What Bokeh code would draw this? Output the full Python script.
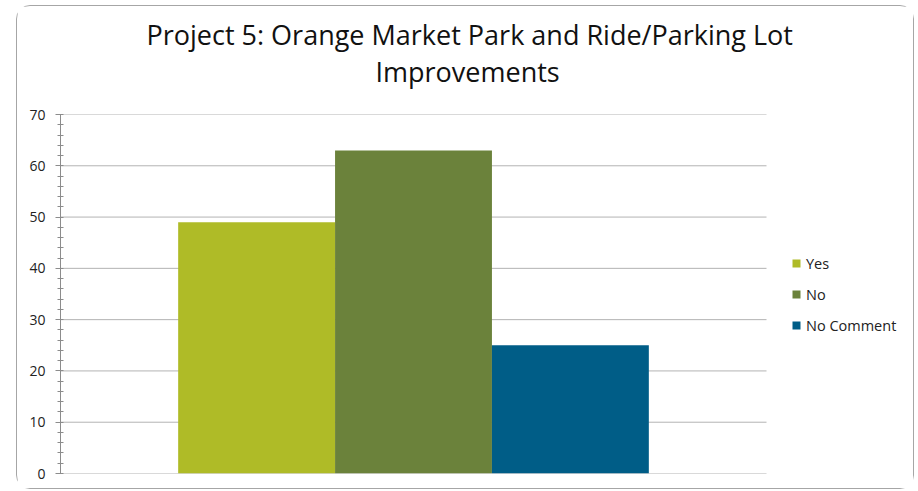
from bokeh.plotting import figure
from bokeh.models import (Range1d, Title, Legend, LegendItem,
                          ColumnDataSource, SingleIntervalTicker)
from bokeh.embed import file_html
from bokeh.resources import INLINE

# ---- data ----
title_lines = ["Project 5: Orange Market Park and Ride/Parking Lot", "Improvements"]
categories = ["Yes", "No", "No Comment"]
values = [49, 63, 25]
colors = ["#afbb27", "#6b823b", "#005d87"]
y_min, y_max, y_step = 0, 70, 10

FONT = "Open Sans"

# ---- geometry (pixels) ----
W, H = 898, 484
left_px, plot_px, top_px, bottom_px = 43, 706, 108, 17
pad = 0.75                                   # category padding on each side
n = len(categories)
unit_px = plot_px / (n + 2 * pad)
frame_px = W - left_px                       # frame also hosts the legend
x_start = -pad
x_end = x_start + frame_px / unit_px

xs = [i + 0.5 for i in range(n)]
src = ColumnDataSource(dict(x=xs, cat=categories, val=values, color=colors))

p = figure(width=W, height=H, output_backend="svg", toolbar_location=None,
           x_range=Range1d(x_start, x_end), y_range=Range1d(y_min, y_max),
           x_axis_location=None,
           min_border_left=left_px, min_border_right=0,
           min_border_top=top_px, min_border_bottom=bottom_px, title=None)
p.background_fill_color = "white"
p.border_fill_color = "white"
p.outline_line_color = None
p.styles = {"margin-left": "16px", "margin-top": "5px",
            "border": "1px solid #a6a6a6", "border-radius": "14px"}

# y axis
ax = p.yaxis[0]
ax.ticker = SingleIntervalTicker(interval=y_step, num_minor_ticks=5)
ax.axis_line_color = "#8c8c8c"
ax.major_tick_line_color = "#8c8c8c"
ax.minor_tick_line_color = "#8c8c8c"
ax.major_tick_out = 5
ax.major_tick_in = 0
ax.minor_tick_out = 3
ax.minor_tick_in = 3
ax.major_label_standoff = 10
ax.major_label_text_font = FONT
ax.major_label_text_font_size = "14px"
ax.major_label_text_color = "#222222"

p.ygrid.visible = False
for g in p.xgrid:
    g.visible = False

# horizontal gridlines limited to the plot area
grid_y = list(range(y_min, y_max + 1, y_step))
p.segment(x0=[x_start] * len(grid_y), x1=[n + pad] * len(grid_y), y0=grid_y, y1=grid_y,
          line_color="#b3b3b3", line_width=1, level="underlay")

r = p.vbar(x="x", top="val", bottom=0, width=1.0, source=src,
           fill_color="color", line_color=None)

items = [LegendItem(label=c, renderers=[r], index=i) for i, c in enumerate(categories)]
legend = Legend(items=items, location=(plot_px + 25, 138), orientation="vertical",
                glyph_width=10, glyph_height=10, label_height=20, spacing=11,
                padding=0, margin=0, label_standoff=5,
                border_line_color=None, background_fill_alpha=0,
                label_text_font=FONT, label_text_font_size="14.5px",
                label_text_color="#222222", label_text_baseline="middle")
p.add_layout(legend)

# spacer between the plot area and the title block
p.add_layout(Title(text=" ", text_font_size="1px", standoff=20), "above")
p.add_layout(Title(text=title_lines[1], align="left", offset=315, standoff=0,
                   vertical_align="top", text_font=FONT, text_font_size="27px",
                   text_font_style="normal", text_color="#111111"), "above")
p.add_layout(Title(text=title_lines[0], align="left", offset=86, standoff=0,
                   vertical_align="bottom", text_font=FONT, text_font_size="27px",
                   text_font_style="normal", text_color="#111111"), "above")

open("out.html", "w").write(file_html(p, INLINE))
